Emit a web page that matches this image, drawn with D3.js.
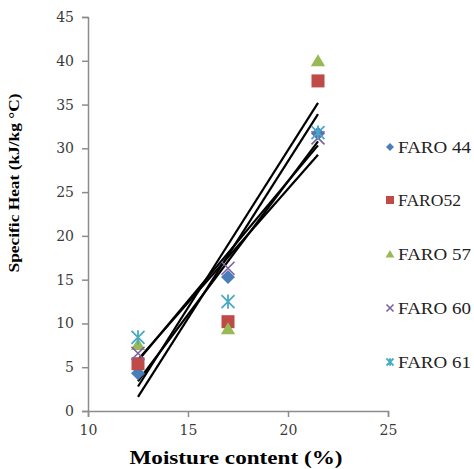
<!DOCTYPE html>
<html><head><meta charset="utf-8">
<script src="https://cdn.jsdelivr.net/npm/d3@7"></script>
<style>body{margin:0;background:#fff}svg{display:block}</style>
</head><body>
<svg id="c" width="474" height="469"></svg>
<script>
const moisture = [12.5, 17, 21.5];
const seriesNames = ["FARO 44", "FARO52", "FARO 57", "FARO 60", "FARO 61"];
const faro44 = [4.3, 15.3, 31.7];
const faro52 = [5.4, 10.2, 37.7];
const faro57 = [7.6, 9.4, 40.0];
const faro60 = [6.6, 16.3, 31.2];
const faro61 = [8.4, 12.5, 31.8];
const xTicks = [10, 15, 20, 25];
const yTicks = [0, 5, 10, 15, 20, 25, 30, 35, 40, 45];
const colors = ["#4a7ebb", "#be4b48", "#98b954", "#7d60a0", "#46aac5"];
const shapes = ["diamond", "square", "triangle", "x", "asterisk"];
const values = [faro44, faro52, faro57, faro60, faro61];

const svg = d3.select("#c");
const x = d3.scaleLinear().domain([10, 25]).range([88, 388]);
const y = d3.scaleLinear().domain([0, 45]).range([411, 17]);

const axisColor = "#8c8c8c";
const gy = svg.append("g").attr("transform", `translate(${x(10)},0)`)
  .call(d3.axisLeft(y).tickValues(yTicks).tickSize(6).tickPadding(8));
const gx = svg.append("g").attr("transform", `translate(0,${y(0)})`)
  .call(d3.axisBottom(x).tickValues(xTicks).tickSize(6).tickPadding(8));
[gx, gy].forEach(g => {
  g.select(".domain").attr("stroke", axisColor).attr("stroke-width", 1.5);
  g.selectAll(".tick line").attr("stroke", axisColor).attr("stroke-width", 1.5);
  g.selectAll("text").attr("fill", "#3a3a3a").style("font-family", "'DejaVu Serif', serif").style("font-size", "14px");
});

// Trend lines (least squares)
function fit(xs, ys) {
  const mx = d3.mean(xs), my = d3.mean(ys);
  const b = d3.sum(xs.map((v, i) => (v - mx) * (ys[i] - my))) / d3.sum(xs.map(v => (v - mx) ** 2));
  return [b, my - b * mx];
}
const line = d3.line().x(d => x(d[0])).y(d => y(d[1]));
values.forEach(vs => {
  const [b, a] = fit(moisture, vs);
  const x0 = d3.min(moisture), x1 = d3.max(moisture);
  svg.append("path").attr("d", line([[x0, a + b * x0], [x1, a + b * x1]]))
    .attr("stroke", "#000").attr("stroke-width", 2.2).attr("fill", "none");
});

function drawMarker(g, shape, color, s) {
  if (shape === "diamond") {
    g.append("path").attr("d", `M0,${-s}L${s},0L0,${s}L${-s},0Z`).attr("fill", color);
  } else if (shape === "square") {
    g.append("rect").attr("x", -s).attr("y", -s).attr("width", 2 * s).attr("height", 2 * s).attr("fill", color);
  } else if (shape === "triangle") {
    g.append("path").attr("d", `M0,${-s}L${s * 1.1},${s * 0.85}L${-s * 1.1},${s * 0.85}Z`).attr("fill", color);
  } else if (shape === "x") {
    g.append("path").attr("d", `M${-s},${-s}L${s},${s}M${-s},${s}L${s},${-s}`).attr("stroke", color).attr("stroke-width", 1.6);
  } else {
    g.append("path").attr("d", `M${-s},${-s}L${s},${s}M${-s},${s}L${s},${-s}M0,${-s * 1.1}L0,${s * 1.1}`).attr("stroke", color).attr("stroke-width", 1.8);
  }
}

values.forEach((vs, k) => {
  vs.forEach((v, i) => {
    const g = svg.append("g").attr("transform", `translate(${x(moisture[i])},${y(v)})`);
    drawMarker(g, shapes[k], colors[k], k === 0 ? 7 : 6.5);
  });
});

// Legend
const legY = [147, 200, 254, 308, 362];
const legLen = [73, 63, 73, 73, 73];
seriesNames.forEach((n, k) => {
  const g = svg.append("g").attr("transform", `translate(390,${legY[k]})`);
  drawMarker(g, shapes[k], colors[k], k === 3 || k === 4 ? 3.5 : 4);
  g.append("text").attr("x", 8).attr("y", 5.5).text(n)
    .attr("textLength", legLen[k]).attr("lengthAdjust", "spacingAndGlyphs")
    .style("font-family", "'Liberation Serif', 'Times New Roman', serif").style("font-size", "16px").attr("fill", "#222");
});

// Axis titles
svg.append("text").attr("x", 236).attr("y", 464).attr("text-anchor", "middle")
  .attr("textLength", 213).attr("lengthAdjust", "spacingAndGlyphs")
  .style("font-family", "'Liberation Serif', serif").style("font-weight", "bold").style("font-size", "19px")
  .text("Moisture content (%)");
svg.append("text").attr("transform", "translate(19,183) rotate(-90)").attr("text-anchor", "middle")
  .attr("textLength", 179).attr("lengthAdjust", "spacingAndGlyphs")
  .style("font-family", "'Liberation Serif', serif").style("font-weight", "bold").style("font-size", "15px")
  .text("Specific Heat (kJ/kg °C)");
</script>
</body></html>
